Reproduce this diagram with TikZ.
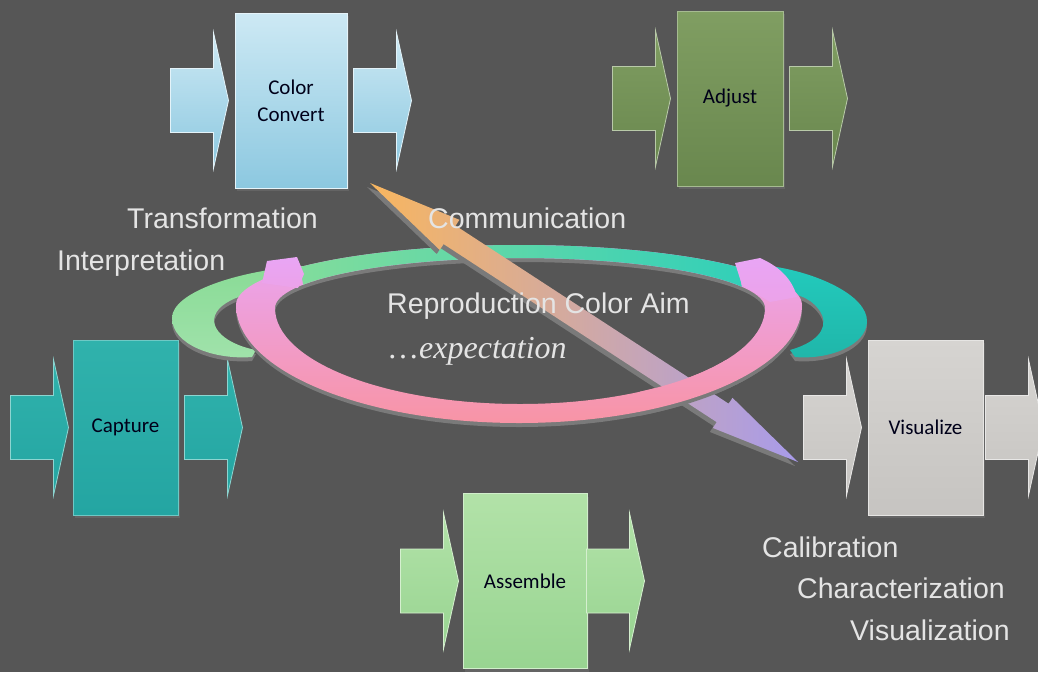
\documentclass[tikz,border=0pt]{standalone}
\usepackage{fontspec}
\setmainfont{Liberation Sans}
\newfontfamily\stagefamily{Carlito}
\newfontfamily\aimserif{Liberation Serif}
\usetikzlibrary{calc,shadows}

% background and text
\definecolor{bgGray}{RGB}{86,86,86}
\definecolor{labelGray}{RGB}{228,228,228}
\definecolor{shadowGray}{RGB}{122,122,122}
% stage colours
\definecolor{convTop}{RGB}{205,233,244}
\definecolor{convBot}{RGB}{140,200,224}
\definecolor{adjTop}{RGB}{128,158,98}
\definecolor{adjBot}{RGB}{105,135,78}
\definecolor{capTop}{RGB}{48,178,172}
\definecolor{capBot}{RGB}{36,165,162}
\definecolor{visTop}{RGB}{214,212,209}
\definecolor{visBot}{RGB}{198,196,193}
\definecolor{asmTop}{RGB}{178,226,168}
\definecolor{asmBot}{RGB}{152,212,145}
% ring colours
\definecolor{ringGreen}{RGB}{140,222,152}
\definecolor{ringTeal}{RGB}{40,206,188}
\definecolor{ringViolet}{RGB}{233,165,245}
\definecolor{ringPink}{RGB}{248,148,165}
\definecolor{wingGreen}{RGB}{137,219,150}
\definecolor{wingTeal}{RGB}{35,202,188}
% communication arrow
\definecolor{aimOrange}{RGB}{248,182,95}
\definecolor{aimPink}{RGB}{222,170,200}
\definecolor{aimViolet}{RGB}{168,155,235}

\tikzset{
    % Stage box - common look
    stage/.style={
        rectangle,
        minimum height=175pt,
        align=center,
        text=black!90!blue,
        line width=1pt,
        font=\stagefamily\fontsize{21}{27}\selectfont,
        drop shadow={opacity=0.35, shadow xshift=2pt, shadow yshift=-3pt}
    },
    % One style per stage
    convertbox/.style={stage, minimum width=112pt, top color=convTop, bottom color=convBot, draw=convTop!50!white},
    adjustbox/.style={stage, minimum width=106pt, top color=adjTop, bottom color=adjBot, draw=adjTop!70!white},
    capturebox/.style={stage, minimum width=105pt, top color=capTop, bottom color=capBot, draw=capTop!70!white},
    visualbox/.style={stage, minimum width=115pt, top color=visTop, bottom color=visBot, draw=visTop!60!white},
    assemblebox/.style={stage, minimum width=124pt, top color=asmTop, bottom color=asmBot, draw=asmTop!60!white},
    % Flat block arrow in front of / behind a stage (origin at the tip)
    pics/flowarrow/.style 2 args={
        code={
            \shade[top color=#1, bottom color=#2, draw=#1!55!white, line width=0.8pt]
                (0,0) -- (-15,-68) -- (-15,-32) -- (-58,-32) -- (-58,32) -- (-15,32) -- (-15,68) -- cycle;
        }
    },
    % Caption text
    caption/.style={
        anchor=base west,
        inner sep=0pt,
        text=labelGray,
        font=\fontsize{28.5}{34}\selectfont
    },
    % Ring outline (outer and inner contour)
    ringshape/.style={
        insert path={
            (236,305) arc[start angle=180, end angle=360, x radius=283, y radius=60]
                      arc[start angle=0, end angle=180, x radius=283, y radius=118] -- cycle
            (275,308) arc[start angle=180, end angle=360, x radius=245, y radius=50]
                      arc[start angle=0, end angle=180, x radius=245, y radius=96] -- cycle
        }
    },
    % Raised ends of the pink part
    ringend/.style={
        top color=ringViolet,
        bottom color=ringViolet!85!ringPink
    },
    % Wings behind the ring
    leftwing/.style={
        insert path={
            (305,266) .. controls (240,270) and (172,292) .. (172,318)
                      .. controls (172,345) and (215,360) .. (252,357) -- (256,350)
                      .. controls (220,343) and (203,322) .. (222,306)
                      .. controls (232,298) and (245,294) .. (262,292) -- cycle
        }
    },
    rightwing/.style={
        insert path={
            (770,266) .. controls (815,272) and (868,295) .. (867,322)
                      .. controls (866,345) and (830,360) .. (795,357) -- (790,350)
                      .. controls (815,343) and (828,330) .. (822,315)
                      .. controls (815,300) and (800,294) .. (782,292) -- cycle
        }
    },
    % Double headed communication arrow (local frame along the arrow)
    aimshape/.style={
        insert path={
            (0,0) -- (95,18) -- (95,11) -- (421,11) -- (421,18) -- (511,0)
                  -- (421,-18) -- (421,-11) -- (95,-11) -- (95,-18) -- cycle
        }
    }
}

\begin{document}
\begin{tikzpicture}[x=1pt, y=-1pt]

    % ========== CANVAS ==========
    \fill[bgGray] (0,0) rectangle (1038,672);
    \useasboundingbox (0,0) rectangle (1038,672);

    % ========== STAGES ==========
    \node[convertbox] (convert) at (291,100.5) {Color\\Convert};
    \node[adjustbox] (adjust) at (730,98.5) {Adjust};
    \node[capturebox] (capture) at (125.5,427.5) {Capture};
    \node[visualbox] (visualize) at (925.5,427.5) {Visualize};
    \node[assemblebox] (assemble) at (525,581) {Assemble};

    % in / out arrows of each stage
    \pic at ([xshift=-6pt]convert.west) {flowarrow={convTop}{convBot}};
    \pic at ([xshift=64pt]convert.east) {flowarrow={convTop}{convBot}};
    \pic at ([xshift=-6pt]adjust.west) {flowarrow={adjTop}{adjBot}};
    \pic at ([xshift=64pt]adjust.east) {flowarrow={adjTop}{adjBot}};
    \pic at ([xshift=-4pt]capture.west) {flowarrow={capTop}{capBot}};
    \pic at ([xshift=64pt]capture.east) {flowarrow={capTop}{capBot}};
    \pic at ([xshift=-6pt]visualize.west) {flowarrow={visTop}{visBot}};
    \pic at ([xshift=60pt]visualize.east) {flowarrow={visTop}{visBot}};
    \pic at ([xshift=-4pt]assemble.west) {flowarrow={asmTop}{asmBot}};
    \pic at ([xshift=57pt]assemble.east) {flowarrow={asmTop}{asmBot}};

    % ========== RING ==========
    % wings
    \fill[shadowGray, yshift=-4pt, leftwing];
    \fill[shadowGray, yshift=-4pt, rightwing];
    \shade[top color=wingGreen, bottom color=wingGreen!80!white, leftwing];
    \shade[top color=wingTeal, bottom color=wingTeal!90!black, rightwing];

    % ring body
    \fill[shadowGray, even odd rule, yshift=-4pt, ringshape];
    \shade[even odd rule, top color=ringViolet, bottom color=ringPink, ringshape];
    \begin{scope}
        \clip (294,235) -- (733,235) -- (744,300) -- (306,300) -- cycle;
        \shade[even odd rule, left color=ringGreen, right color=ringTeal, ringshape];
    \end{scope}
    % raised ends
    \shade[ringend] (262,283) -- (267,261) -- (297,257) -- (304,274) -- (298,288) -- cycle;
    \shade[ringend] (735,263) -- (760,258) .. controls (778,266) and (792,278) .. (797,297)
        -- (770,302) -- (742,285) -- cycle;

    % ========== COMMUNICATION ARROW ==========
    \coordinate (aimTop) at (370,183);
    \coordinate (aimEnd) at (798,462);
    \begin{scope}[shift={($(aimTop)+(-3,4)$)}, rotate=-33.1]
        \fill[shadowGray, aimshape];
    \end{scope}
    \begin{scope}[shift={(aimTop)}, rotate=-33.1]
        \shade[left color=aimOrange, middle color=aimPink, right color=aimViolet, aimshape];
    \end{scope}

    % ring passes over the arrow at the bottom
    \begin{scope}
        \clip (640,360) rectangle (790,440);
        \fill[shadowGray, even odd rule, yshift=-4pt, ringshape];
        \shade[even odd rule, top color=ringViolet, bottom color=ringPink, ringshape];
    \end{scope}

    % ========== CAPTIONS ==========
    \node[caption] (transf) at (127,228) {Transformation};
    \node[caption] (interp) at (57,270) {Interpretation};
    \node[caption] (comm) at (428,228) {Communication};
    \node[caption] (aim) at (387,313) {Reproduction Color Aim};
    \node[caption, font=\aimserif\fontsize{32}{38}\selectfont] (expect) at (387,358) {\ldots\textit{expectation}};
    \node[caption] (calib) at (762,557) {Calibration};
    \node[caption] (charact) at (797,598) {Characterization};
    \node[caption] (visual) at (850,640) {Visualization};

\end{tikzpicture}
\end{document}
